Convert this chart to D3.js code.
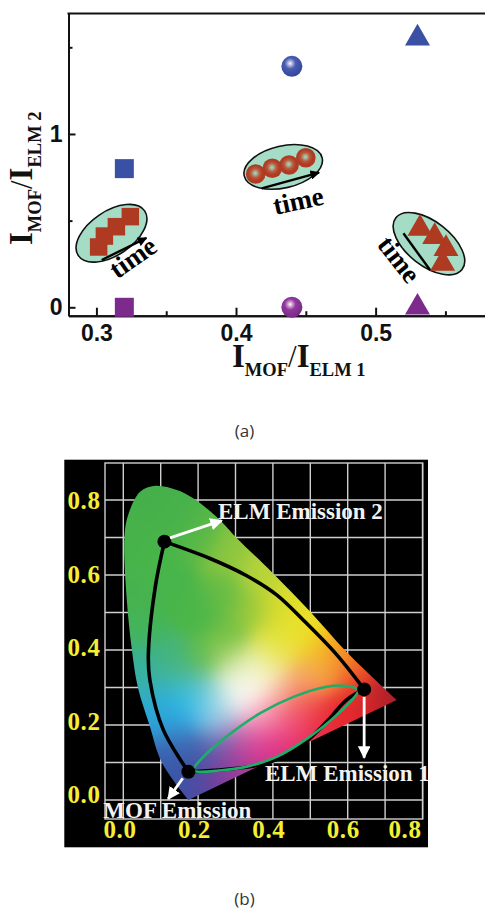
<!DOCTYPE html>
<html><head><meta charset="utf-8">
<script src="https://cdn.jsdelivr.net/npm/d3@7/dist/d3.min.js"></script>
<style>
html,body{margin:0;padding:0;background:#fff}
svg{display:block}
text{font-family:"Liberation Serif",serif;font-weight:bold}
</style></head><body>
<svg id="c" width="485" height="910"></svg>
<script>
// ---------- panel (a) data ----------
const xTicksA=[0.3,0.4,0.5];
const xMinorA=[0.35,0.45,0.55];
const yTicksA=[0,1];
const yMinorA=[0.5,1.5];
const squaresBlue=[[0.32,0.8]];
const circlesBlue=[[0.44,1.39]];
const trianglesBlue=[[0.53,1.552]];
const squaresPurple=[[0.32,0]];
const circlesPurple=[[0.44,0]];
const trianglesPurple=[[0.53,0]];
const redSquares=[[0.3016,0.348],[0.3057,0.411],[0.3143,0.465],[0.3243,0.523]];
const redCircles=[[0.4141,0.769],[0.426,0.802],[0.438,0.821],[0.450,0.863]];
const redTriangles=[[0.5318,0.455],[0.5423,0.407],[0.5504,0.338],[0.548,0.253]];
const ovals=[[0.3108,0.427],[0.4338,0.81],[0.5382,0.367]];
const timeArrows=[[[0.3038,0.273],[0.3358,0.4]],[[0.4184,0.686],[0.4595,0.777]],[[0.5199,0.427],[0.539,0.215]]];
const timeLabels=[[0.3265,0.283],[0.4447,0.609],[0.5163,0.273]];
// ---------- panel (b) data ----------
const gridX=[0,0.1,0.2,0.3,0.4,0.5,0.6,0.7,0.8];
const gridY=[0,0.1,0.2,0.3,0.4,0.5,0.6,0.7,0.8];
const tickLabelsB=[0,0.2,0.4,0.6,0.8];
const gamut=[[0.174,0],[0.103,0.1],[0.07,0.2],[0.039,0.3],[0.023,0.40],[0.009,0.539],[0.003,0.70],[0.013,0.76],[0.045,0.822],[0.085,0.838],[0.143,0.827],[0.187,0.805],[0.258,0.747],[0.303,0.699],[0.40,0.605],[0.5,0.502],[0.597,0.395],[0.731,0.267]];
const sideLeft=[[0.11,0.689],[0.085,0.565],[0.067,0.387],[0.071,0.32],[0.107,0.187],[0.174,0.0755]];
const sideTop=[[0.11,0.689],[0.232,0.644],[0.33,0.598],[0.41,0.547],[0.481,0.48],[0.571,0.387],[0.644,0.295]];
const sideBottom=[[0.174,0.0755],[0.276,0.082],[0.383,0.098],[0.472,0.142],[0.544,0.209],[0.597,0.267],[0.644,0.295]];
const greenLoop=[[0.187,0.08],[0.214,0.115],[0.276,0.169],[0.365,0.231],[0.455,0.275],[0.544,0.302],[0.597,0.304],[0.628,0.293],[0.615,0.271],[0.571,0.227],[0.499,0.169],[0.41,0.115],[0.33,0.089],[0.25,0.078],[0.196,0.076]];
const nodes=[[0.11,0.689],[0.174,0.0755],[0.644,0.295]];
const emissionArrows=[[[0.125,0.699],[0.263,0.745]],[[0.644,0.275],[0.644,0.113]],[[0.159,0.058],[0.12,0.003]]];
const emissionNames=["ELM Emission 2","ELM Emission 1","MOF Emission"];
const colorAnchors=[
[0.08,0.8,"#45b04a"],[0.02,0.7,"#46b249"],[0.02,0.55,"#46b24f"],[0.08,0.65,"#47b54a"],[0.13,0.55,"#47b54a"],[0.2,0.5,"#4cb649"],[0.2,0.7,"#56b747"],[0.13,0.75,"#48b24a"],[0.05,0.45,"#44b45a"],
[0.28,0.66,"#8ec63f"],[0.27,0.55,"#66bc45"],[0.36,0.6,"#b8d43a"],[0.34,0.5,"#98c83c"],[0.28,0.44,"#6cbe44"],[0.42,0.52,"#dcdc2c"],[0.4,0.44,"#dcdf34"],[0.47,0.46,"#ece228"],
[0.517,0.405,"#f2d01f"],[0.58,0.395,"#f58a20"],[0.544,0.347,"#f5a040"],[0.62,0.33,"#ec4c28"],[0.66,0.25,"#d8242a"],
[0.731,0.267,"#9a1f2a"],[0.69,0.27,"#b8202a"],[0.55,0.2,"#ea2a3a"],[0.6,0.24,"#e8282c"],[0.48,0.26,"#f0504a"],[0.45,0.2,"#ee4a78"],[0.42,0.13,"#e8327f"],[0.5,0.14,"#e82a50"],[0.365,0.14,"#e83a90"],
[0.33,0.07,"#9a3b98"],[0.4,0.1,"#c8348a"],[0.31,0.125,"#b03a9a"],[0.25,0.05,"#7a3f9c"],[0.2,0.01,"#4a4aa2"],[0.15,0.06,"#3a55a6"],[0.258,0.14,"#5e50a4"],
[0.186,0.14,"#3d5aa8"],[0.12,0.13,"#3a60ae"],[0.15,0.187,"#3b80c4"],[0.178,0.245,"#22bcf0"],[0.13,0.25,"#28b8ec"],[0.2,0.26,"#40c4ee"],[0.107,0.23,"#2ba4dc"],[0.08,0.22,"#2aa0d4"],[0.08,0.29,"#38b0b0"],
[0.05,0.36,"#36b0a0"],[0.125,0.373,"#45b47a"],[0.16,0.31,"#48b8a8"],[0.214,0.373,"#5ebb4c"],[0.286,0.38,"#a8cf55"],[0.374,0.38,"#e8e870"],[0.42,0.4,"#ece640"],
[0.303,0.285,"#ffffff"],[0.32,0.3,"#ffffff"],[0.373,0.347,"#f6f6d0"],[0.34,0.33,"#fbfbe8"],[0.3,0.34,"#e0ecc0"],[0.23,0.285,"#7cc4c0"],[0.26,0.26,"#d8f0f0"],
[0.24,0.23,"#9ad4ee"],[0.258,0.195,"#8aa0d0"],[0.33,0.178,"#e070b0"],[0.39,0.22,"#f47aa0"],[0.347,0.24,"#fbc8d0"],[0.42,0.29,"#f8b8a0"],[0.48,0.33,"#f6a868"]];

const svg=d3.select("#c");
const defs=svg.append("defs");
function sphere(id,stops,fx,fy){
  const g=defs.append("radialGradient").attr("id",id).attr("cx",fx).attr("cy",fy).attr("r",0.62);
  stops.forEach(s=>g.append("stop").attr("offset",s[0]).attr("stop-color",s[1]));
}
sphere("sBlue",[[0,"#ffffff"],[0.16,"#b4b8e0"],[0.42,"#4a5cb0"],[1,"#33479f"]],0.42,0.36);
sphere("sPurple",[[0,"#ffffff"],[0.16,"#d8a8d8"],[0.42,"#8e3a9c"],[1,"#7a2888"]],0.42,0.36);
sphere("sRed",[[0,"#a8d8bc"],[0.14,"#a4b494"],[0.36,"#b85a40"],[0.62,"#b03a22"],[1,"#b03a22"]],0.48,0.46);
const mk=defs.append("marker").attr("id","hB").attr("viewBox","0 0 10 10").attr("refX",9).attr("refY",5)
  .attr("markerWidth",4).attr("markerHeight",4).attr("orient","auto");
mk.append("path").attr("d","M0,0L10,5L0,10Z").attr("fill","#000");
const mw=defs.append("marker").attr("id","hW").attr("viewBox","0 0 10 10").attr("refX",9).attr("refY",5)
  .attr("markerWidth",4.5).attr("markerHeight",4.5).attr("orient","auto");
mw.append("path").attr("d","M0,0L10,5L0,10Z").attr("fill","#fff");

// ---------- panel (a) ----------
const xA=d3.scaleLinear().domain([0.28,0.58]).range([68.5,487.3]);
const yA=d3.scaleLinear().domain([-0.0485,1.695]).range([315.7,13.5]);
const A=svg.append("g");
const axX=A.append("g").attr("transform","translate(0,315.7)")
  .call(d3.axisBottom(xA).tickValues(xTicksA).tickSizeInner(-8).tickSizeOuter(0).tickPadding(10).tickFormat(d3.format(".1f")));
const axXm=A.append("g").attr("transform","translate(0,315.7)")
  .call(d3.axisBottom(xA).tickValues(xMinorA).tickSizeInner(-4.5).tickSizeOuter(0).tickFormat(""));
const axY=A.append("g").attr("transform","translate(68.5,0)")
  .call(d3.axisLeft(yA).tickValues(yTicksA).tickSizeInner(-7).tickSizeOuter(0).tickPadding(6).tickFormat(d3.format("d")));
const axYm=A.append("g").attr("transform","translate(68.5,0)")
  .call(d3.axisLeft(yA).tickValues(yMinorA).tickSizeInner(-4).tickSizeOuter(0).tickFormat(""));
[axX,axXm,axY,axYm].forEach(g=>{g.selectAll("path,line").attr("stroke","#111").attr("stroke-width",2);
  g.selectAll("text").attr("fill","#111").style("font-family","'Liberation Sans',sans-serif").style("font-weight","bold").style("font-size","23px");});
axX.selectAll("text").attr("dy","0.66em");
A.append("line").attr("x1",67.5).attr("x2",485).attr("y1",13.5).attr("y2",13.5).attr("stroke","#111").attr("stroke-width",2);

const sym=(t,s)=>d3.symbol().type(t).size(s)();
function marks(data,type,size,fill){
  A.append("g").selectAll("path").data(data).join("path")
   .attr("transform",d=>`translate(${xA(d[0])},${yA(d[1])})`).attr("d",sym(type,size)).attr("fill",fill);
}
function balls(data,r,fill){
  A.append("g").selectAll("circle").data(data).join("circle")
   .attr("cx",d=>xA(d[0])).attr("cy",d=>yA(d[1])).attr("r",r).attr("fill",fill);
}
marks(squaresBlue,d3.symbolSquare,361,"#3a50a4");
marks(squaresPurple,d3.symbolSquare,361,"#7c2a8c");
balls(circlesBlue,10.5,"url(#sBlue)");
balls(circlesPurple,10.5,"url(#sPurple)");
marks(trianglesBlue,d3.symbolTriangle,270,"#3a50a4");
marks(trianglesPurple,d3.symbolTriangle,270,"#7c2a8c");

const ovalShape=[[40,22,-34],[40,21,-13],[42,22,38]];
A.append("g").selectAll("ellipse").data(ovals).join("ellipse")
 .attr("transform",(d,i)=>`translate(${xA(d[0])},${yA(d[1])}) rotate(${ovalShape[i][2]})`)
 .attr("rx",(d,i)=>ovalShape[i][0]).attr("ry",(d,i)=>ovalShape[i][1])
 .attr("fill","#a5dcc6").attr("stroke","#111").attr("stroke-width",1.6);
marks(redSquares,d3.symbolSquare,306,"#ae3a22");
balls(redCircles,9.8,"url(#sRed)");
marks(redTriangles,d3.symbolTriangle,270,"#ae3a22");
A.append("g").selectAll("line").data(timeArrows).join("line")
 .attr("x1",d=>xA(d[0][0])).attr("y1",d=>yA(d[0][1])).attr("x2",d=>xA(d[1][0])).attr("y2",d=>yA(d[1][1]))
 .attr("stroke","#000").attr("stroke-width",2.4).attr("marker-end",(d,i)=>i<2?"url(#hB)":null);
const timeRot=[-35,-12,52];
A.append("g").selectAll("text").data(timeLabels).join("text")
 .attr("transform",(d,i)=>`translate(${xA(d[0])},${yA(d[1])}) rotate(${timeRot[i]})`)
 .attr("text-anchor","middle").attr("dy","0.3em").attr("font-size",27).attr("fill","#000").text("time");

function ratioTitle(g,sub){
  const t=g.append("text").attr("fill","#111");
  t.append("tspan").attr("font-size",33).text("I");
  t.append("tspan").attr("font-size",18.5).attr("dy",9).text("MOF");
  t.append("tspan").attr("font-size",31).attr("dy",-9).style("font-weight","normal").text("/");
  t.append("tspan").attr("font-size",33).text("I");
  t.append("tspan").attr("font-size",18.5).attr("dy",9).text(sub);
  return t;
}
ratioTitle(A,"ELM 1").attr("x",232).attr("y",366.7);
ratioTitle(A,"ELM 2").attr("transform","translate(32,245) rotate(-90)");

const capText=(s,y)=>svg.append("text").attr("x",244.5).attr("y",y).attr("text-anchor","middle").attr("fill","#333")
  .style("font-family","'Open Sans',sans-serif").style("font-weight","normal").attr("font-size",17).text(s);
capText("(a)",437);
capText("(b)",905);

// ---------- panel (b) ----------
const xB=d3.scaleLinear().domain([0,0.8]).range([123.3,422.5]);
const yB=d3.scaleLinear().domain([0,0.8]).range([800,500]);
const B=svg.append("g");
B.append("rect").attr("x",64.3).attr("y",459.7).attr("width",363.7).attr("height",387.6).attr("fill","#000");
const gLeft=105,gRight=422.7,gTop=463,gBot=819;
B.append("g").selectAll("line.v").data(gridX).join("line").attr("x1",xB).attr("x2",xB).attr("y1",gTop).attr("y2",gBot);
B.append("g").selectAll("line.h").data(gridY).join("line").attr("y1",yB).attr("y2",yB).attr("x1",gLeft).attr("x2",gRight);
B.append("rect").attr("x",gLeft).attr("y",gTop).attr("width",gRight-gLeft).attr("height",gBot-gTop).attr("fill","none");
B.selectAll("line,rect:not(:first-child)").attr("stroke","#cfcfcf").attr("stroke-width",1.4);

// colour field: normalised Gaussian blend of colours
const line=d3.line().x(d=>xB(d[0])).y(d=>yB(d[1])).curve(d3.curveCatmullRom.alpha(0.5));
defs.append("clipPath").attr("id","gam").append("path").attr("d",line(gamut)+"Z");
const W=290,H=330,ox=115,oy=478,S=2*15*15;
const cv=document.createElement("canvas");cv.width=W;cv.height=H;
const ctx=cv.getContext("2d");const im=ctx.createImageData(W,H);
const anchors=colorAnchors.map(a=>({x:xB(a[0]),y:yB(a[1]),c:d3.rgb(a[2])}));
for(let j=0;j<H;j++)for(let i=0;i<W;i++){
  let r=0,g=0,b=0,w=1e-12;
  for(const a of anchors){const dx=i+ox-a.x,dy=j+oy-a.y;const q=Math.exp(-(dx*dx+dy*dy)/S);r+=q*a.c.r;g+=q*a.c.g;b+=q*a.c.b;w+=q;}
  const k=(j*W+i)*4;im.data[k]=r/w;im.data[k+1]=g/w;im.data[k+2]=b/w;im.data[k+3]=255;
}
ctx.putImageData(im,0,0);
B.append("image").attr("x",ox).attr("y",oy).attr("width",W).attr("height",H).attr("href",cv.toDataURL()).attr("clip-path","url(#gam)");

B.append("g").selectAll("path").data([sideLeft,sideTop,sideBottom]).join("path")
 .attr("d",line).attr("fill","none").attr("stroke","#000").attr("stroke-width",3.6);
B.append("path").attr("d",d3.line().x(d=>xB(d[0])).y(d=>yB(d[1])).curve(d3.curveCatmullRomClosed.alpha(0.5))(greenLoop))
 .attr("fill","none").attr("stroke","#1fae6a").attr("stroke-width",2.6);
B.append("g").selectAll("circle").data(nodes).join("circle").attr("cx",d=>xB(d[0])).attr("cy",d=>yB(d[1])).attr("r",7).attr("fill","#000");
B.append("g").selectAll("line.a").data(emissionArrows).join("line")
 .attr("x1",d=>xB(d[0][0])).attr("y1",d=>yB(d[0][1])).attr("x2",d=>xB(d[1][0])).attr("y2",d=>yB(d[1][1]))
 .attr("stroke","#fff").attr("stroke-width",2.8).attr("marker-end","url(#hW)");
const namePos=[[218,519],[265,780.7],[103.3,817.7]];
B.append("g").selectAll("text").data(emissionNames).join("text")
 .attr("x",(d,i)=>namePos[i][0]).attr("y",(d,i)=>namePos[i][1]).attr("font-size",23).attr("fill","#f2f2f2").text(d=>d);

const yLab=d3.scaleLinear().domain([0,0.8]).range([795,501]);
B.append("g").selectAll("text").data(tickLabelsB).join("text").attr("x",84).attr("y",yLab).attr("dy","0.33em")
 .attr("text-anchor","middle").attr("font-size",25).style("letter-spacing","0.6px").attr("fill","#f4ee34").text(d3.format(".1f"));
const xLab=d3.scaleLinear().domain([0,0.6]).range([120,343.3]);
B.append("g").selectAll("text").data(tickLabelsB).join("text").attr("x",d=>Math.min(xLab(d),405)).attr("y",838.3)
 .attr("text-anchor","middle").attr("font-size",25).style("letter-spacing","0.6px").attr("fill","#f4ee34").text(d3.format(".1f"));
</script></body></html>
